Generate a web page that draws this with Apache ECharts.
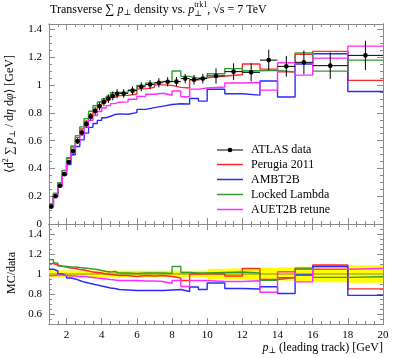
<!DOCTYPE html>
<html><head><meta charset="utf-8">
<script src="https://cdn.jsdelivr.net/npm/echarts@6/dist/echarts.min.js"></script>
<style>html,body{margin:0;padding:0;background:#fff}#c{width:397px;height:358px}</style>
</head><body><div id="c"></div>
<script>
// ---- data ----
const binEdges = [1,1.25,1.5,1.75,2,2.25,2.5,2.75,3,3.25,3.5,3.75,4,4.25,4.5,4.75,5,5.5,6,6.5,7,7.5,8,8.5,9,9.5,10,11,12,13,14,15,16,18,20];
const atlasData = [0.125,0.2,0.275,0.359,0.446,0.525,0.597,0.659,0.719,0.773,0.814,0.848,0.879,0.902,0.922,0.938,0.94,0.96,0.988,1.004,1.017,1.024,1.025,1.047,1.039,1.047,1.066,1.097,1.092,1.18,1.135,1.164,1.14,1.214];
const atlasErr = [0.005,0.007,0.01,0.013,0.016,0.018,0.021,0.023,0.025,0.027,0.028,0.029,0.03,0.031,0.031,0.032,0.031,0.031,0.032,0.032,0.033,0.033,0.033,0.034,0.034,0.035,0.055,0.06,0.065,0.075,0.075,0.085,0.095,0.105];
const perugia2011 = [0.138,0.218,0.296,0.384,0.473,0.554,0.624,0.685,0.741,0.788,0.826,0.856,0.879,0.897,0.913,0.924,0.926,0.936,0.973,0.984,1.002,0.998,0.984,0.979,1.039,1.052,1.066,1.075,1.152,1.115,1.095,1.222,1.243,1.034];
const ambt2b = [0.131,0.206,0.275,0.352,0.428,0.499,0.558,0.606,0.654,0.696,0.724,0.746,0.765,0.776,0.788,0.793,0.79,0.802,0.825,0.838,0.849,0.86,0.866,0.864,0.904,0.885,0.97,0.938,0.928,1.03,0.914,1.152,1.226,0.954];
const lockedLambda = [0.143,0.222,0.297,0.386,0.477,0.562,0.636,0.699,0.759,0.812,0.851,0.878,0.901,0.92,0.945,0.947,0.949,0.965,0.998,1.014,1.027,1.029,1.102,1.063,1.049,1.057,1.082,1.119,1.103,1.106,1.094,1.232,1.101,1.18];
const auet2bRetune = [0.123,0.198,0.272,0.354,0.437,0.515,0.582,0.643,0.697,0.746,0.781,0.81,0.835,0.852,0.867,0.877,0.879,0.898,0.919,0.934,0.941,0.927,0.958,0.916,0.971,0.979,0.986,1.015,1.019,0.964,1.161,1.072,1.194,1.281];
const xTickLabels = [2,4,6,8,10,12,14,16,18,20];
const yTickLabels = [0,0.2,0.4,0.6,0.8,1,1.2,1.4];
const ratioTickLabels = [0.6,0.8,1,1.2,1.4];
const seriesNames = ['ATLAS data','Perugia 2011','AMBT2B','Locked Lambda','AUET2B retune'];

// ---- styling ----
const FONT = "'Liberation Serif', 'DejaVu Serif', serif";
const AX = '#8a8a8a';
const COLORS = {red:'#ff2a2a', blue:'#2a2aff', green:'#359a35', mag:'#ff2aff'};
const X_MIN = 1, X_MAX = 20, Y_MAX = 1.44, R_MIN = 0.5, R_MAX = 1.5;

function range(a, b, s){ const o=[]; for(let v=a; v<=b+1e-9; v+=s) o.push(Math.round(v*1000)/1000); return o; }
const xMinor = range(1, 20, 0.5);
const yMinor = range(0, 1.4, 0.05);
const rMinor = range(0.5, 1.5, 0.05);

function xAx(grid, pos, vals, len, labels){
  return {type:'value', gridIndex:grid, position:pos, min:X_MIN, max:X_MAX,
    axisLine:{show:true, onZero:false, lineStyle:{color:AX, width:1}},
    axisTick:{show:true, inside:true, length:len, customValues:vals, lineStyle:{color:AX, width:1}},
    axisLabel: labels ? {show:true, customValues:labels, margin:6, fontFamily:FONT, fontSize:11, color:'#000'} : {show:false},
    splitLine:{show:false}, axisPointer:{show:false}};
}
function yAx(grid, pos, mn, mx, vals, len, labels){
  return {type:'value', gridIndex:grid, position:pos, min:mn, max:mx,
    axisLine:{show:true, onZero:false, lineStyle:{color:AX, width:1}},
    axisTick:{show:true, inside:true, length:len, customValues:vals, lineStyle:{color:AX, width:1}},
    axisLabel: labels ? {show:true, customValues:labels, margin:7, fontFamily:FONT, fontSize:11, color:'#000'} : {show:false},
    splitLine:{show:false}, axisPointer:{show:false}};
}

const G = {left:49, width:334};
const grids = [
  {left:G.left, width:G.width, top:24, height:200},
  {left:G.left, width:G.width, top:224, height:100},
  {left:G.left, width:G.width, top:24, height:200},
  {left:G.left, width:G.width, top:224, height:100}
];
const xAxes = [
  xAx(0,'bottom',xTickLabels,6,null),
  xAx(1,'bottom',xTickLabels,6,xTickLabels),
  xAx(0,'top',xTickLabels,6,null),
  xAx(1,'top',xTickLabels,6,null),
  xAx(2,'bottom',xMinor,3,null),
  xAx(2,'top',xMinor,3,null),
  xAx(3,'bottom',xMinor,3,null),
  xAx(3,'top',xMinor,3,null)
];
const yAxes = [
  yAx(0,'left',0,Y_MAX,yTickLabels,6,yTickLabels),
  yAx(1,'left',R_MIN,R_MAX,ratioTickLabels,6,ratioTickLabels),
  yAx(0,'right',0,Y_MAX,yTickLabels,6,null),
  yAx(1,'right',R_MIN,R_MAX,ratioTickLabels,6,null),
  yAx(2,'left',0,Y_MAX,yMinor,3,null),
  yAx(2,'right',0,Y_MAX,yMinor,3,null),
  yAx(3,'left',R_MIN,R_MAX,rMinor,3,null),
  yAx(3,'right',R_MIN,R_MAX,rMinor,3,null)
];

function stepData(vals){
  const d = vals.map((v,i)=>[binEdges[i], v]);
  d.push([binEdges[binEdges.length-1], vals[vals.length-1]]);
  return d;
}
function ratioOf(vals){ return vals.map((v,i)=> v/atlasData[i]); }
function stepSeries(name, vals, color, xi, yi, z){
  return {type:'line', name, xAxisIndex:xi, yAxisIndex:yi, data:stepData(vals), step:'end',
    showSymbol:false, symbol:'none', lineStyle:{color, width:1.4}, z, silent:true, animation:false, clip:true};
}

const mcList = [
  {name:seriesNames[1], vals:perugia2011, color:COLORS.red},
  {name:seriesNames[2], vals:ambt2b, color:COLORS.blue},
  {name:seriesNames[3], vals:lockedLambda, color:COLORS.green},
  {name:seriesNames[4], vals:auet2bRetune, color:COLORS.mag}
];

const series = [];
// yellow band in ratio
series.push({type:'custom', name:'band', xAxisIndex:1, yAxisIndex:1, z:1, silent:true, animation:false,
  data: atlasData.map((v,i)=>[binEdges[i], binEdges[i+1], 1 - atlasErr[i]/v, 1 + atlasErr[i]/v]),
  encode:{x:[0,1], y:[2,3]},
  renderItem(params, api){
    const p1 = api.coord([api.value(0), api.value(3)]);
    const p2 = api.coord([api.value(1), api.value(2)]);
    return {type:'rect', shape:{x:p1[0], y:p1[1], width:p2[0]-p1[0], height:p2[1]-p1[1]}, style:{fill:'#ffff00'}};
  }});
// data/data reference line
series.push(stepSeries('ref', atlasData.map(()=>1), '#6b6b2a', 1, 1, 2));
series[series.length-1].lineStyle.width = 0.8;
mcList.forEach((m,k)=>{
  series.push(stepSeries(m.name, m.vals, m.color, 0, 0, 3+k));
  series.push(stepSeries(m.name+' ratio', ratioOf(m.vals), m.color, 1, 1, 3+k));
});
// ATLAS data points with error bars
series.push({type:'custom', name:seriesNames[0], xAxisIndex:0, yAxisIndex:0, z:10, silent:true, animation:false,
  data: atlasData.map((v,i)=>[binEdges[i], binEdges[i+1], v, atlasErr[i]]),
  encode:{x:[0,1], y:[2]},
  renderItem(params, api){
    const lo=api.value(0), hi=api.value(1), v=api.value(2), e=api.value(3), c=(lo+hi)/2;
    const pL=api.coord([lo,v]), pH=api.coord([hi,v]), pT=api.coord([c,v+e]), pB=api.coord([c,v-e]), pC=api.coord([c,v]);
    return {type:'group', children:[
      {type:'line', shape:{x1:pL[0],y1:pL[1],x2:pH[0],y2:pH[1]}, style:{stroke:'#000', lineWidth:1}},
      {type:'line', shape:{x1:pT[0],y1:pT[1],x2:pB[0],y2:pB[1]}, style:{stroke:'#000', lineWidth:1}},
      {type:'circle', shape:{cx:pC[0], cy:pC[1], r:2.3}, style:{fill:'#000'}}
    ]};
  }});

// ---- text layout helpers (real text) ----
const ctx = document.createElement('canvas').getContext('2d');
function fontStr(p){ return (p.italic?'italic ':'') + (p.size||12) + 'px ' + FONT; }
function textW(t, p){ ctx.font = fontStr(p); return ctx.measureText(t).width; }
function layout(pieces, x0, yc, align){
  const widths = pieces.map(p => p.stack ? Math.max(...p.stack.map(s=>textW(s.t,p))) : textW(p.t,p));
  const total = widths.reduce((a,b)=>a+b,0);
  let x = align==='center' ? x0 - total/2 : align==='right' ? x0 - total : x0;
  const els = [];
  pieces.forEach((p,i)=>{
    const list = p.stack ? p.stack : [p];
    list.forEach(s => els.push({type:'text', x:x, y:yc + (s.dy||0), silent:true,
      style:{text:s.t, font:fontStr(p), fill:'#000', textAlign:'left', textVerticalAlign:'middle'}}));
    x += widths[i];
  });
  return els;
}

const graphic = [];
// title
graphic.push(...layout([
  {t:'Transverse '},{t:'∑', size:13},{t:' '},{t:'p', italic:true},{t:'⊥', size:8, dy:3},
  {t:' density vs. '},{t:'p', italic:true},{stack:[{t:'trk1', dy:-5},{t:'⊥', dy:4}], size:8},
  {t:', √s = 7 TeV'}
], 50, 10, 'left'));
// y label (rotated)
graphic.push({type:'group', x:10, y:114, rotation:Math.PI/2, children: layout([
  {t:'⟨d'},{t:'2', size:8, dy:-4},{t:' ∑ '},{t:'p', italic:true},{t:'⊥', size:8, dy:3},
  {t:' / d'},{t:'η', italic:true},{t:' d'},{t:'φ', italic:true},{t:'⟩ [GeV]'}
], 0, 0, 'center')});
// ratio label
graphic.push({type:'group', x:12, y:273, rotation:Math.PI/2, children: layout([{t:'MC/data'}], 0, 0, 'center')});
// x label
graphic.push(...layout([{t:'p', italic:true},{t:'⊥', size:8, dy:3},{t:' (leading track) [GeV]'}], 383, 348, 'right'));
// legend
const legY = [150, 164.5, 179.5, 194.5, 209.5];
const legColors = ['#000', COLORS.red, COLORS.blue, COLORS.green, COLORS.mag];
seriesNames.forEach((n,i)=>{
  graphic.push({type:'line', silent:true, shape:{x1:217, y1:legY[i], x2:243, y2:legY[i]}, style:{stroke:legColors[i], lineWidth: i===0?1:1.5}});
  if(i===0) graphic.push({type:'circle', silent:true, shape:{cx:230, cy:legY[i], r:2.3}, style:{fill:'#000'}});
  graphic.push({type:'text', silent:true, x:251, y:legY[i], style:{text:n, font:'12px '+FONT, fill:'#000', textAlign:'left', textVerticalAlign:'middle'}});
});

const chart = echarts.init(document.getElementById('c'), null, {renderer:'canvas'});
chart.setOption({
  backgroundColor:'#fff', animation:false,
  grid: grids, xAxis: xAxes, yAxis: yAxes, series, graphic
});
</script>
</body></html>
